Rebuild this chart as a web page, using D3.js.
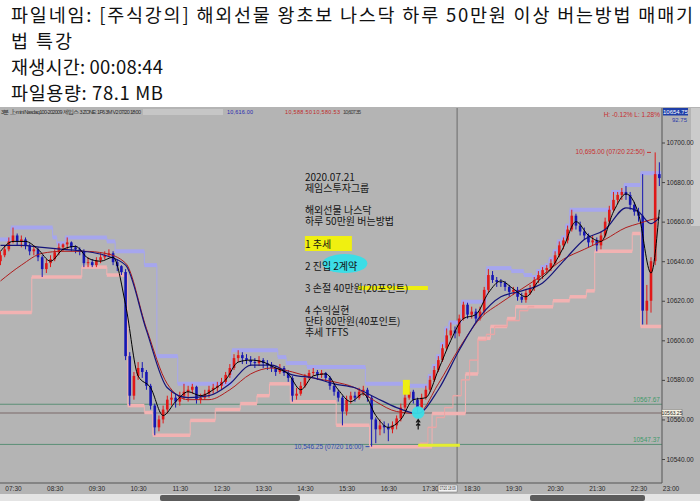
<!DOCTYPE html>
<html>
<head>
<meta charset="utf-8">
<script src="https://cdn.jsdelivr.net/npm/d3@7"></script>
<style>
  body { margin: 0; background: #fff; }
  svg { display: block; }
  .notes { font-family: "Noto Sans CJK KR", sans-serif; font-size: 10px; line-height: 11.1px;
           color: #141414; white-space: pre; margin: 0; }
</style>
</head>
<body>
<svg id="chart" width="700" height="501"></svg>
<script>
// ---- page text ----
const titleLines = [
  "파일네임: [주식강의] 해외선물 왕초보 나스닥 하루 50만원 이상 버는방법 매매기",
  "법 특강",
  "재생시간: 00:08:44",
  "파일용량: 78.1 MB"
];
// empty strings keep the gaps of the note box
const noteLines = [
  "2020.07.21", "제임스투자그룹", "", "해외선물 나스닥", "하루 50만원 버는방법", "",
  "1 추세", "", "2 진입 2계약", "", "3 손절 40만원(20포인트)", "", "4 수익실현",
  "단타 80만원(40포인트)", "추세 TFTS"
];

// ---- 6 minute bars, first bar 07:12 ----
const barStart = "07:12";
const opens = [10640,10643,10646,10650,10653,10650,10651,10648,10645,10646,
  10642,10636,10639,10641,10644.5,10647,10648.5,10649.5,10647,10646,
  10645,10639,10639.5,10638,10640.5,10642,10643,10644,10639.5,10637.5,
  10634.5,10592,10572,10582,10586,10584,10577,10567,10556,10560,
  10565,10570,10571,10569,10572,10574,10575,10576.5,10570,10571,
  10573,10575,10576,10577,10579,10582.5,10586,10591,10592.5,10591,
  10590,10589,10588.5,10590,10588.5,10587.5,10586,10584,10586,10583.5,
  10581,10572,10573,10577,10581,10583.5,10584,10582.5,10583.5,10581,
  10577,10574,10571,10564,10570,10572,10571,10574,10575,10571,
  10560,10555,10557,10556,10555,10557,10560.5,10566,10571,10574,
  10570,10566,10571,10575,10580,10585,10590,10596,10602.5,10605,
  10603.5,10611,10618,10613,10614.5,10611,10614.5,10625.5,10633,10630.5,
  10629.5,10629,10627,10624.5,10625.5,10622,10620.5,10624,10626.5,10630.5,
  10633,10635.5,10636.5,10639,10643,10648,10650.5,10656,10663,10658,
  10655,10653,10649.5,10650.5,10648,10653,10660,10666,10671,10673.5,
  10675,10673.5,10668.5,10665,10663,10615,10620,10640,10684];
const highs = [10645,10648,10652,10657,10654,10653,10652,10649,10648,10647,
  10643,10641,10643,10646,10649,10649,10652,10650,10648,10647,
  10646,10642,10641,10642,10644,10645,10646,10645,10641,10638,
  10636,10594,10584,10589,10589,10585,10578,10568,10562,10567,
  10572,10574,10573,10574,10578,10577,10578,10577,10573,10575,
  10577,10578,10579,10581,10584,10588,10593,10595,10594,10593,
  10592,10591,10592,10591,10590,10589,10587,10588,10587,10585,
  10582,10576,10579,10583,10585,10586,10585,10585,10584,10582,
  10578,10575,10572,10572,10574,10574,10576,10577,10576,10572,
  10561,10560,10559,10558,10559,10562,10568,10573,10577,10575,
  10571,10573,10577,10582,10587,10592,10598,10606,10609,10607,
  10613,10619.5,10619,10617,10616,10617,10627,10636,10635,10632,
  10631,10630,10628,10627,10627,10624,10626,10628,10632,10635,
  10637,10638,10641,10645,10650,10652,10658,10666,10664,10660,
  10657,10654,10653,10652,10655,10662,10668,10675,10675,10677,
  10678,10675,10670,10667,10684,10628,10642,10695,10690];
const lows = [10638,10642,10645,10649,10648,10647,10646,10643,10643,10640,
  10632,10634,10637,10640,10643,10645,10646,10645,10644,10643,
  10637,10637,10637,10637,10639,10641,10642,10638,10635,10633,
  10590,10567,10570,10580,10581,10575,10565,10552,10554,10558,
  10563,10567,10566,10567,10570,10569,10573,10568,10568,10570,
  10571,10573,10574,10575,10578,10581,10585,10589,10588,10588,
  10587,10586,10587,10586,10585,10584,10582,10583,10582,10579,
  10569,10570,10572,10576,10580,10582,10580,10581,10579,10575,
  10572,10569,10557,10562,10568,10569,10570,10572,10569,10546.25,
  10548,10552,10553,10549,10553,10555,10559,10564,10570,10568,
  10563,10565,10570,10574,10579,10584,10589,10595,10601,10601,
  10602,10610,10611,10611,10609,10610,10613,10624,10629,10627,
  10627,10625,10622,10623,10620,10619,10619,10623,10625,10629,
  10631,10634,10635,10638,10642,10646,10649,10655,10656,10653,
  10651,10647,10648,10645,10646,10652,10659,10665,10669,10671,
  10671,10666,10663,10660,10608,10608,10614,10638,10678];
const closes = [10643,10646,10650,10653,10650,10651,10648,10645,10646,10642,
  10636,10639,10641,10644.5,10647,10648.5,10649.5,10647,10646,10645,
  10639,10639.5,10638,10640.5,10642,10643,10644,10639.5,10637.5,10634.5,
  10592,10572,10582,10586,10584,10577,10567,10556,10560,10565,
  10570,10571,10569,10572,10574,10575,10576.5,10570,10571,10573,
  10575,10576,10577,10579,10582.5,10586,10591,10592.5,10591,10590,
  10589,10588.5,10590,10588.5,10587.5,10586,10584,10586,10583.5,10581,
  10572,10573,10577,10581,10583.5,10584,10582.5,10583.5,10581,10577,
  10574,10571,10564,10570,10572,10571,10574,10575,10571,10560,
  10555,10557,10556,10555,10557,10560.5,10566,10571,10574,10570,
  10566,10571,10575,10580,10585,10590,10596,10602.5,10605,10603.5,
  10611,10618,10613,10614.5,10611,10614.5,10625.5,10633,10630.5,10629.5,
  10629,10627,10624.5,10625.5,10622,10620.5,10624,10626.5,10630.5,10633,
  10635.5,10636.5,10639,10643,10648,10650.5,10656,10663,10658,10655,
  10653,10649.5,10650.5,10648,10653,10660,10666,10671,10673.5,10675,
  10673.5,10668.5,10665,10663,10615,10620,10640,10684,10682];

// ---- channel steps (upper lavender, lower pink, thin trailing ladder) ----
const upperTimes = ["07:09","07:27","08:27","08:33","08:45","09:45","09:57","10:39","10:57","11:27",
  "12:45","13:51","14:03","14:33","15:57","16:51","17:27","17:33","17:39","17:45",
  "17:51","17:57","18:15","18:51","19:27","19:45","19:57","20:03","20:09","20:15",
  "20:21","20:27","20:33","20:39","20:45","20:51","21:51","22:09","22:33","23:03"];
const upperValues = [10651,10657,10652,10649,10652,10650,10645,10638,10592,10578,
  10595,10591.5,10588.5,10586.5,10578,10577,10582,10587,10592,10598,
  10606,10609,10619.5,10636.5,10635,10633,10632,10635,10637,10638,
  10641,10645,10650,10652,10658,10666,10675,10678.5,10684.5,10684.5];
const lowerTimes = ["07:09","07:57","09:09","09:45","10:15","10:39","10:51","11:45","12:21","12:57",
  "13:21","13:39","14:09","15:15","16:03","17:33","18:21","18:39","18:57","19:21",
  "19:33","20:27","20:51","21:15","21:27","22:21","22:33","23:03"];
const lowerValues = [10614,10632,10637,10633,10567,10563.5,10552,10559.5,10565,10568,
  10572,10578,10569,10557,10546.25,10563,10583,10601,10607,10611,
  10617,10620,10622,10625,10645,10654,10607,10607];
const trailTimes = ["17:15","17:27","17:39","17:51","18:03","18:15","18:27","18:39","18:51","19:03","19:21","19:39","19:51","20:00"];
const trailValues = [10548,10556,10561,10566,10572,10580,10590,10600,10603,10607,10610,10615,10617,10617];

// ---- moving averages ----
const fastTimes = ["07:12","07:30","07:48","08:06","08:24","08:42","09:00","09:18","09:36","09:54",
  "10:12","10:30","10:48","11:06","11:24","11:42","12:00","12:18","12:36","12:54",
  "13:12","13:30","13:48","14:06","14:24","14:42","15:00","15:18","15:36","15:54",
  "16:12","16:30","16:48","17:06","17:24","17:42","18:00","18:18","18:36","18:54",
  "19:12","19:30","19:48","20:06","20:24","20:42","21:00","21:18","21:36","21:54",
  "22:12","22:30","22:48","23:00"];
const blackValues = [10645,10650,10650,10646,10640,10646,10647.5,10641.5,10640,10642,
  10618,10582,10576,10562,10569,10574,10572,10575,10580,10589,
  10590,10589,10586,10583,10575,10582,10583,10575,10569,10573,
  10562,10556,10560,10570,10571,10585,10600,10611,10613,10624,
  10630,10626,10622,10630,10636,10647,10660,10653,10650,10665,
  10674,10664,10634,10666];
const slowTimes = ["07:12","07:42","08:12","08:42","09:12","09:42","10:12","10:42","11:12","11:42",
  "12:12","12:42","13:12","13:42","14:12","14:42","15:12","15:42","16:12","16:42",
  "17:12","17:42","18:12","18:42","19:12","19:42","20:12","20:42","21:12","21:42",
  "22:12","22:30","22:48","23:00"];
const navyValues = [10648,10648,10647,10646,10645,10643,10638,10605,10576,10571,
  10572,10578,10587.5,10587.5,10582.5,10581,10578,10576,10571,10566,
  10563,10575,10595,10612,10622,10625,10629,10640,10651,10656,
  10667,10665,10659,10662];
const redValues = [10630,10638,10644,10645,10645,10644,10639,10606,10578,10570,
  10570,10575,10583,10586,10584,10581,10579,10576,10569,10564,
  10563,10578,10596,10611,10619,10626,10633,10641,10646,10651,
  10657,10659,10661,10662];

// ---- axes and reference lines ----
const timeTicks = ["07:30","08:30","09:30","10:30","11:30","12:30","13:30","14:30","15:30","16:30","17:30","18:30","19:30","20:30","21:30","22:30"];
const priceTicks = [10540,10560,10580,10600,10620,10640,10660,10680,10700];
const refLevels = [10567.67, 10563.25, 10547.37];
const refColors = ["#5b8f76", "#7a6868", "#5b8f76"];

const parseT = d3.timeParse("%H:%M");
const svg = d3.select("#chart");
const FONT = "Liberation Sans, Arial, sans-serif";
const KFONT = "Noto Sans CJK KR, sans-serif";

// title block
const titleWidths = [682, 61, 152, 152];
svg.selectAll(".title").data(titleLines).join("text")
  .attr("x", 11).attr("y", (d, i) => 22 + i * 26)
  .attr("textLength", (d, i) => titleWidths[i]).attr("lengthAdjust", "spacing")
  .style("font-family", KFONT).style("font-size", "18.5px").attr("fill", "#111")
  .text(d => d);

// chart picture
svg.append("rect").attr("x", 0).attr("y", 107).attr("width", 700).attr("height", 388).attr("fill", "#b4b4b4");
svg.append("rect").attr("x", 0).attr("y", 494).attr("width", 700).attr("height", 7).attr("fill", "#e4e4e4");
svg.append("rect").attr("x", 160).attr("y", 495).attr("width", 140).attr("height", 6).attr("rx", 2).attr("fill", "#5c5c5c");
svg.append("rect").attr("x", 530).attr("y", 495).attr("width", 115).attr("height", 6).attr("rx", 2).attr("fill", "#5c5c5c");
svg.append("rect").attr("x", 691).attr("y", 108).attr("width", 9).attr("height", 118).attr("fill", "#cbcbcb");

const plot = { left: 0, right: 662, top: 108, bottom: 483 };
const x = d3.scaleTime().domain([parseT("07:30"), parseT("22:30")]).range([13, 638.5]);
const y = d3.scaleLinear().domain([10540, 10700]).range([459, 142.5]);

svg.append("clipPath").attr("id", "clip").append("rect")
  .attr("x", plot.left).attr("y", plot.top)
  .attr("width", plot.right - plot.left).attr("height", plot.bottom - plot.top);
const g = svg.append("g").attr("clip-path", "url(#clip)");

// reference lines
g.selectAll(".ref").data(refLevels).join("line")
  .attr("x1", plot.left).attr("x2", plot.right)
  .attr("y1", d => y(d)).attr("y2", d => y(d))
  .attr("stroke", (d, i) => refColors[i]).attr("stroke-width", 1);

// cursor line
const cursorT = parseT("18:09");
g.append("line").attr("x1", x(cursorT)).attr("x2", x(cursorT))
  .attr("y1", plot.top).attr("y2", plot.bottom).attr("stroke", "#6a6a6a").attr("stroke-width", 1);

// step channel helper: thin connectors + thick horizontal runs
function drawSteps(times, values, color, width) {
  const pts = times.map((t, i) => ({ t: parseT(t), v: values[i] }));
  const runs = pts.slice(0, -1).map((p, i) => ({ t0: p.t, t1: pts[i + 1].t, v: p.v, vNext: pts[i + 1].v }));
  g.append("g").selectAll("line").data(runs.slice(0, -1)).join("line")
    .attr("x1", d => x(d.t1)).attr("x2", d => x(d.t1))
    .attr("y1", d => y(d.v)).attr("y2", d => y(d.vNext))
    .attr("stroke", color).attr("stroke-width", 1);
  g.append("g").selectAll("line").data(runs).join("line")
    .attr("x1", d => x(d.t0)).attr("x2", d => x(d.t1))
    .attr("y1", d => y(d.v)).attr("y2", d => y(d.v))
    .attr("stroke", color).attr("stroke-width", width);
}
drawSteps(lowerTimes, lowerValues, "#f2b2b2", 3.5);
drawSteps(trailTimes, trailValues, "#eaa6a6", 1.5);
drawSteps(upperTimes, upperValues, "#a6a6ee", 4);

// candles
const t0 = parseT(barStart);
const bars = closes.map((c, k) => ({
  t: d3.timeMinute.offset(t0, 6 * k), o: opens[k], h: highs[k], l: lows[k], c
}));
const candleColor = d => d.c >= d.o ? "#e01818" : "#1616b4";
g.append("g").selectAll("line").data(bars).join("line")
  .attr("x1", d => x(d.t)).attr("x2", d => x(d.t))
  .attr("y1", d => y(d.h)).attr("y2", d => y(d.l))
  .attr("stroke", candleColor).attr("stroke-width", 1);
g.append("g").selectAll("rect").data(bars).join("rect")
  .attr("x", d => x(d.t) - 1.3).attr("width", 2.6)
  .attr("y", d => y(Math.max(d.o, d.c)))
  .attr("height", d => Math.max(1, Math.abs(y(d.o) - y(d.c))))
  .attr("fill", candleColor);

// moving averages
const maLine = d3.line().x(d => x(d.t)).y(d => y(d.v)).curve(d3.curveMonotoneX);
const series = [
  { times: slowTimes, values: redValues, color: "#b01c1c", w: 1 },
  { times: slowTimes, values: navyValues, color: "#14147a", w: 1.2 },
  { times: fastTimes, values: blackValues, color: "#000", w: 1 }
];
series.forEach(s => {
  g.append("path")
    .datum(s.times.map((t, i) => ({ t: parseT(t), v: s.values[i] })))
    .attr("d", maLine).attr("fill", "none")
    .attr("stroke", s.color).attr("stroke-width", s.w);
});

// entry / stop markers
const entryT = parseT("17:13");
g.append("rect")
  .attr("x", x(parseT("16:51"))).attr("width", x(parseT("17:01")) - x(parseT("16:51")))
  .attr("y", y(10580)).attr("height", y(10572.5) - y(10580)).attr("fill", "#eeee10");
g.append("line")
  .attr("x1", x(entryT)).attr("x2", x(parseT("18:13")))
  .attr("y1", y(10547)).attr("y2", y(10547))
  .attr("stroke", "#e4ee30").attr("stroke-width", 3);
g.append("circle").attr("cx", x(entryT)).attr("cy", y(10563.5)).attr("r", 6.3)
  .attr("fill", "#3cdde6").attr("opacity", 0.95);
const ax = x(entryT), ay = y(10563.5) + 7;
g.append("path")
  .attr("d", `M${ax},${ay} L${ax},${ay + 10} M${ax - 2},${ay + 3} L${ax},${ay} L${ax + 2},${ay + 3} M${ax - 2},${ay + 6} L${ax},${ay + 4} L${ax + 2},${ay + 6}`)
  .attr("stroke", "#111").attr("stroke-width", 1.2).attr("fill", "none");

// notes block anchored at 14:30, one multi-line text node
const noteX = x(parseT("14:30"));
g.append("rect").attr("x", noteX).attr("y", 236).attr("width", 47).attr("height", 15).attr("fill", "#f0f010");
g.append("ellipse").attr("cx", noteX + 40).attr("cy", 263.5).attr("rx", 22.5).attr("ry", 9.5).attr("fill", "#3cdde6");
g.append("rect").attr("x", noteX + 53).attr("y", 286).attr("width", 70).attr("height", 4).attr("fill", "#eeee10");
g.append("foreignObject").attr("x", noteX).attr("y", 171.1).attr("width", 150).attr("height", 175)
  .append("xhtml:div").attr("class", "notes")
  .text(noteLines.join("\n"));

// extreme labels
g.append("text").attr("x", x(parseT("16:03")) - 6).attr("y", y(10546.25) + 2.5)
  .attr("text-anchor", "end").style("font-family", FONT).style("font-size", "6.5px").attr("fill", "#3048b0")
  .text("10,546.25 (07/20 16:00)");
g.append("line").attr("x1", x(parseT("16:03")) - 4).attr("x2", x(parseT("16:03")))
  .attr("y1", y(10546.25)).attr("y2", y(10546.25)).attr("stroke", "#3048b0");
g.append("text").attr("x", x(parseT("22:48")) - 6).attr("y", y(10695) + 2)
  .attr("text-anchor", "end").style("font-family", FONT).style("font-size", "6.5px").attr("fill", "#c83030")
  .text("10,695.00 (07/20 22:50)");
g.append("line").attr("x1", x(parseT("22:48")) - 4).attr("x2", x(parseT("22:48")))
  .attr("y1", y(10695)).attr("y2", y(10695)).attr("stroke", "#c83030");
[0, 2].forEach(i => {
  g.append("text").attr("x", 660).attr("y", y(refLevels[i]) - 2)
    .attr("text-anchor", "end").style("font-family", FONT).style("font-size", "6.5px").attr("fill", "#3f9a6a")
    .text(refLevels[i].toFixed(2));
});
g.append("text").attr("x", 660).attr("y", 117).attr("text-anchor", "end")
  .style("font-family", FONT).style("font-size", "6.5px").attr("fill", "#c83030")
  .text("H: -0.12%  L: 1.28%");

// header row
const header = svg.append("g").style("font-family", FONT).style("font-size", "5.5px");
header.append("text").attr("x", 1).attr("y", 114).attr("textLength", 140).attr("fill", "#2a2a2a")
  .text("3분 上-mini Nasdaq100-202009 제임스 3 ZONE: 1F6 3M V2  07/20 18:00");
header.append("rect").attr("x", 143).attr("y", 109).attr("width", 80).attr("height", 6).attr("fill", "#c6c6c6");
header.append("text").attr("x", 227).attr("y", 114).attr("textLength", 26).attr("fill", "#2828b0").text("10,616.00");
header.append("text").attr("x", 285).attr("y", 114).attr("textLength", 27).attr("fill", "#c02828").text("10,588.50");
header.append("text").attr("x", 313).attr("y", 114).attr("textLength", 27).attr("fill", "#c02828").text("10,580.53");
header.append("text").attr("x", 343).attr("y", 114).attr("textLength", 18).attr("fill", "#3a3a3a").text("10,607.35");

// right price axis
svg.append("line").attr("x1", plot.right).attr("x2", plot.right).attr("y1", plot.top).attr("y2", plot.bottom)
  .attr("stroke", "#555");
const yAxis = svg.append("g").attr("transform", `translate(${plot.right},0)`)
  .call(d3.axisRight(y).tickValues(priceTicks).tickFormat(d3.format(".2f")).tickSize(3).tickPadding(1.5));
yAxis.select(".domain").remove();
yAxis.selectAll("line").attr("stroke", "#444");
yAxis.selectAll("text").style("font-family", FONT).style("font-size", "6.5px").attr("fill", "#262626");

// current price box and ref box
svg.append("rect").attr("x", 663).attr("y", 108).attr("width", 25).attr("height", 7.5).attr("fill", "#1e3ea8");
svg.append("text").attr("x", 675.5).attr("y", 114).attr("text-anchor", "middle")
  .style("font-family", FONT).style("font-size", "6px").attr("fill", "#fff").text("10654.75");
svg.append("text").attr("x", 687).attr("y", 121.5).attr("text-anchor", "end")
  .style("font-family", FONT).style("font-size", "6px").attr("fill", "#2838a8").text("92.75");
svg.append("rect").attr("x", 662).attr("y", y(refLevels[1]) - 3.5).attr("width", 20).attr("height", 7)
  .attr("fill", "#f4f0e0").attr("stroke", "#777").attr("stroke-width", 0.5);
svg.append("text").attr("x", 672).attr("y", y(refLevels[1]) + 1.8).attr("text-anchor", "middle")
  .style("font-family", FONT).style("font-size", "5px").attr("fill", "#222").text(refLevels[1].toFixed(2));

// bottom time axis
const xAxis = svg.append("g").attr("transform", `translate(0,${plot.bottom})`)
  .call(d3.axisBottom(x).tickValues(timeTicks.map(parseT)).tickFormat(d3.timeFormat("%H:%M")).tickSize(0).tickPadding(3));
xAxis.select(".domain").attr("stroke", "#555").attr("d", `M${plot.left},0H${plot.right}`);
xAxis.selectAll("text").style("font-family", FONT).style("font-size", "6.5px").attr("fill", "#2a2a2a");
svg.append("text").attr("x", 671).attr("y", 490.5).attr("text-anchor", "middle")
  .style("font-family", FONT).style("font-size", "6.5px").attr("fill", "#2a2a2a").text("23:00");
const cx0 = x(cursorT);
svg.append("rect").attr("x", cx0 - 19).attr("y", 485).attr("width", 19).attr("height", 7)
  .attr("fill", "#f4f4f4").attr("stroke", "#666").attr("stroke-width", 0.5);
svg.append("text").attr("x", cx0 - 9.5).attr("y", 490.2).attr("text-anchor", "middle")
  .attr("textLength", 16).attr("lengthAdjust", "spacingAndGlyphs")
  .style("font-family", FONT).style("font-size", "4.5px").attr("fill", "#222").text("07/20 18:09");
</script>
</body>
</html>
